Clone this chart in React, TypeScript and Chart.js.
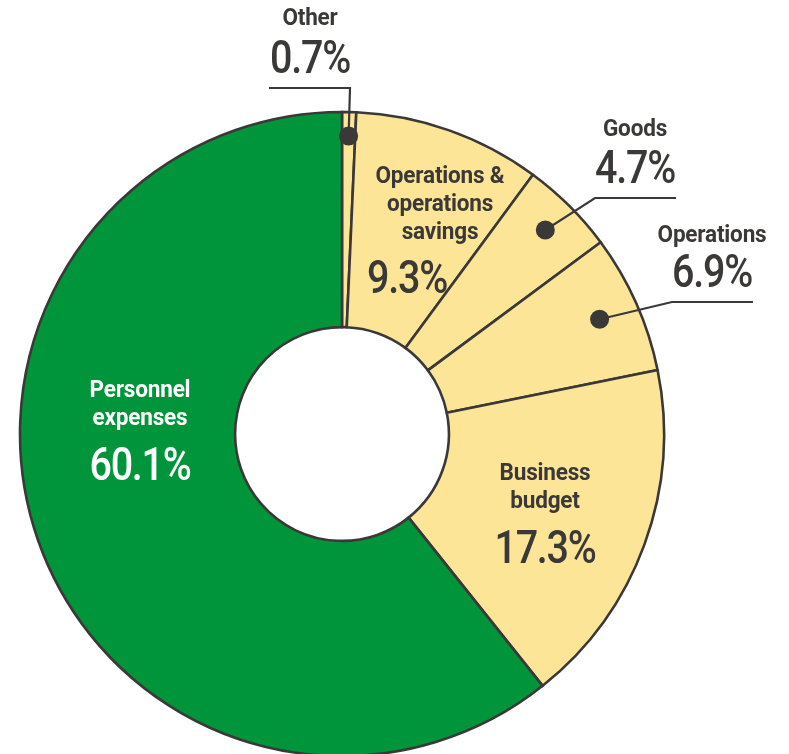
import React, { useEffect, useRef } from 'react';
import { Chart, registerables } from 'chart.js';

Chart.register(...registerables);

// ---- data ----
const categories = ['Other', 'Operations & operations savings', 'Goods', 'Operations', 'Business budget', 'Personnel expenses'];
const shares = [0.7, 9.3, 4.7, 6.9, 17.3, 60.1];
const percentLabels = ['0.7%', '9.3%', '4.7%', '6.9%', '17.3%', '60.1%'];
const nameLines = [['Other'], ['Operations &', 'operations', 'savings'], ['Goods'], ['Operations'], ['Business', 'budget'], ['Personnel', 'expenses']];

// ---- styles ----
const YELLOW = '#fde597';
const GREEN = '#00953a';
const DARK = '#3b3838';
const sliceColors = [YELLOW, YELLOW, YELLOW, YELLOW, YELLOW, GREEN];
const textColors = [DARK, DARK, DARK, DARK, DARK, '#ffffff'];

// label placement relative to the chart centre
type Place = { nx: number; ny: number; lh: number; px: number; py: number; leader?: { r: number; elbow: [number, number]; end: [number, number] } };
const places: Place[] = [
  { nx: -32, ny: -409, lh: 28, px: -32, py: -361, leader: { r: 298, elbow: [8, -346], end: [-73, -346] } },
  { nx: 98, ny: -251, lh: 28, px: 65, py: -141 },
  { nx: 293, ny: -298, lh: 28, px: 293, py: -251, leader: { r: 288, elbow: [253, -236], end: [334, -236] } },
  { nx: 370, ny: -192, lh: 28, px: 370, py: -147, leader: { r: 282, elbow: [330, -132], end: [411, -132] } },
  { nx: 203, ny: 46, lh: 28, px: 203, py: 129 },
  { nx: -202, ny: -37, lh: 28, px: -202, py: 46 },
];

function drawText(ctx: CanvasRenderingContext2D, text: string, x: number, y: number, font: string, color: string, spacing: number, scaleX: number) {
  ctx.save();
  ctx.font = font;
  (ctx as any).letterSpacing = spacing + 'px';
  ctx.fillStyle = color;
  ctx.textAlign = 'center';
  ctx.textBaseline = 'alphabetic';
  ctx.translate(x, y);
  ctx.scale(scaleX, 1);
  ctx.fillText(text, 0, 0);
  ctx.restore();
}

const labelPlugin = {
  id: 'labelPlugin',
  afterDraw(chart: any) {
    const ctx: CanvasRenderingContext2D = chart.ctx;
    const meta = chart.getDatasetMeta(0);
    meta.data.forEach((arc: any, i: number) => {
      const cx = arc.x;
      const cy = arc.y;
      const p = places[i];
      if (p.leader) {
        const mid = (arc.startAngle + arc.endAngle) / 2;
        const dx = cx + p.leader.r * Math.cos(mid);
        const dy = cy + p.leader.r * Math.sin(mid);
        ctx.save();
        ctx.strokeStyle = DARK;
        ctx.lineWidth = 2.2;
        ctx.beginPath();
        ctx.moveTo(dx, dy);
        ctx.lineTo(cx + p.leader.elbow[0], cy + p.leader.elbow[1]);
        ctx.lineTo(cx + p.leader.end[0], cy + p.leader.end[1]);
        ctx.stroke();
        ctx.fillStyle = DARK;
        ctx.beginPath();
        ctx.arc(dx, dy, 9.5, 0, Math.PI * 2);
        ctx.fill();
        ctx.restore();
      }
      nameLines[i].forEach((line, k) => {
        drawText(ctx, line, cx + p.nx, cy + p.ny + k * p.lh, 'bold 23px Roboto', textColors[i], -0.2, 0.98);
      });
      drawText(ctx, percentLabels[i], cx + p.px, cy + p.py, '500 47px Roboto', textColors[i], -1.5, 0.84);
    });
  },
};

export default function App() {
  const ref = useRef<HTMLCanvasElement | null>(null);
  useEffect(() => {
    if (!ref.current) return;
    const chart = new Chart(ref.current, {
      type: 'doughnut',
      data: {
        labels: categories,
        datasets: [
          {
            data: shares,
            backgroundColor: sliceColors,
            borderColor: DARK,
            borderWidth: 2.6,
            borderJoinStyle: 'miter',
          },
        ],
      },
      options: {
        responsive: false,
        animation: false,
        radius: 322,
        cutout: '33.2%',
        rotation: 0,
        layout: { padding: { left: 0, right: 105, top: 114, bottom: 0 } },
        plugins: {
          legend: { display: false },
          tooltip: { enabled: false },
          title: { display: false },
        },
      } as any,
      plugins: [labelPlugin],
    });
    return () => chart.destroy();
  }, []);
  return (
    <div style={{ position: 'absolute', left: 0, top: 0, width: 789, height: 754, background: '#ffffff', overflow: 'hidden' }}>
      <canvas ref={ref} width={789} height={754} style={{ display: 'block', width: 789, height: 754 }} />
    </div>
  );
}
